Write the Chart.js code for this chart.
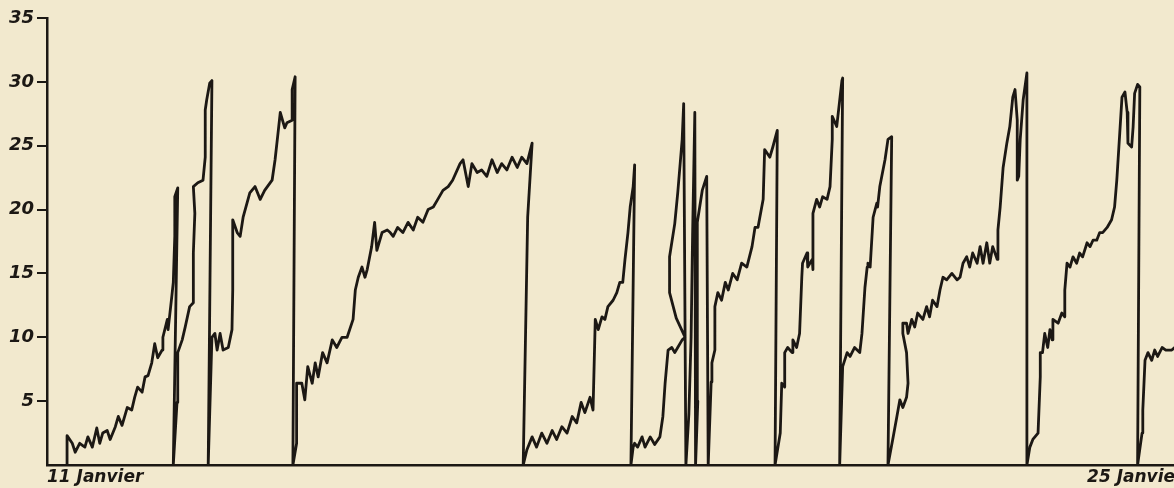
<!DOCTYPE html>
<html lang="fr">
<head>
<meta charset="utf-8">
<title>11 - 25 Janvier</title>
<script src="https://cdn.jsdelivr.net/npm/chart.js@4/dist/chart.umd.min.js"></script>
<style>
    html, body { margin: 0; padding: 0; background: #f2e9ce; }
    #cadre { width: 1174px; height: 488px; position: relative; }
</style>
</head>
<body>
<div id="cadre"><canvas id="courbe"></canvas></div>
<script>
/* Enregistrement du 11 au 25 janvier */

// temps en jours depuis le 11 janvier
const jours = [
    0.27, 0.27, 0.34, 0.38, 0.44, 0.51, 0.55, 0.61, 0.67, 0.71, 0.75, 0.81, 0.85, 0.92, 0.96, 1.01, 1.08, 1.14, 1.18, 1.22, 1.28, 1.32, 1.36, 1.41, 1.45, 1.49, 1.55, 1.56, 1.62, 1.63, 1.68, 1.70, 1.72, 1.72, 1.76, 1.70,
    1.75, 1.76, 1.82, 1.86, 1.92, 1.97, 1.97, 1.99, 1.97, 2.03, 2.10, 2.13, 2.13, 2.15, 2.19, 2.22, 2.17,
    2.22, 2.26, 2.29, 2.33, 2.37, 2.44, 2.49, 2.50, 2.50, 2.56, 2.60, 2.64, 2.73, 2.80, 2.87, 2.93, 3.03, 3.07, 3.11, 3.14, 3.20, 3.23, 3.30, 3.30, 3.34, 3.31,
    3.36, 3.36, 3.43, 3.47, 3.51, 3.57, 3.61, 3.65, 3.71, 3.77, 3.84, 3.90, 3.97, 4.04, 4.12, 4.15, 4.19, 4.24, 4.28, 4.31, 4.37, 4.41, 4.44, 4.51, 4.58, 4.62, 4.66, 4.72, 4.79, 4.86, 4.93, 4.99, 5.06, 5.13, 5.20, 5.26, 5.33, 5.40, 5.46, 5.56, 5.60, 5.67, 5.72, 5.79, 5.85, 5.92, 5.99, 6.06, 6.12, 6.19, 6.26, 6.33, 6.39, 6.46, 6.53, 6.47, 6.41,
    6.46, 6.53, 6.59, 6.66, 6.73, 6.80, 6.86, 6.93, 7.00, 7.07, 7.13, 7.19, 7.24, 7.31, 7.35, 7.38, 7.42, 7.47, 7.51, 7.55, 7.62, 7.67, 7.71, 7.75, 7.78, 7.82, 7.85, 7.89, 7.91, 7.86,
    7.89, 7.91, 7.95, 8.01, 8.05, 8.12, 8.18, 8.25, 8.29, 8.32, 8.36, 8.41, 8.45, 8.49, 8.55, 8.59, 8.47, 8.38, 8.38, 8.45, 8.49, 8.55, 8.57, 8.60, 8.64, 8.67, 8.69, 8.72, 8.73, 8.76, 8.75, 8.75, 8.76, 8.82, 8.88, 8.90,
    8.94, 8.95, 8.99, 8.99, 9.03, 9.08, 9.13, 9.17, 9.23, 9.29, 9.35, 9.42, 9.49, 9.53, 9.57, 9.64, 9.66, 9.73, 9.77, 9.83, 9.80,
    9.87, 9.89, 9.93, 9.93, 9.97, 10.03, 10.04, 10.09, 10.13, 10.16, 10.17, 10.23, 10.24, 10.30, 10.31, 10.31, 10.36, 10.40, 10.44, 10.50, 10.54, 10.57, 10.57, 10.63, 10.70, 10.71, 10.67,
    10.71, 10.77, 10.81, 10.87, 10.94, 10.97, 11.01, 11.04, 11.05, 11.08, 11.12, 11.17, 11.18, 11.21, 11.28, 11.32, 11.37, 11.32,
    11.39, 11.44, 11.48, 11.52, 11.57, 11.59, 11.57, 11.52, 11.52, 11.57, 11.59, 11.64, 11.68, 11.72, 11.79, 11.84, 11.88, 11.92, 11.98, 12.02, 12.06, 12.11, 12.18, 12.25, 12.29, 12.33, 12.38, 12.42, 12.46, 12.52, 12.56, 12.60, 12.65, 12.69, 12.73, 12.79, 12.80, 12.83, 12.87, 12.92, 12.96, 13.00, 13.03, 13.06, 13.06, 13.08, 13.10, 13.14, 13.19, 13.19,
    13.23, 13.27, 13.34, 13.37, 13.37, 13.40, 13.43, 13.47, 13.50, 13.53, 13.54, 13.61, 13.66, 13.70, 13.70, 13.73, 13.77, 13.81, 13.86, 13.90, 13.94, 14.00, 14.04, 14.08, 14.13, 14.17, 14.21, 14.27, 14.33, 14.37, 14.40, 14.44, 14.47, 14.51, 14.54, 14.55, 14.60, 14.62, 14.64, 14.68, 14.71, 14.68,
    14.74, 14.75, 14.78, 14.82, 14.87, 14.91, 14.95, 15.01, 15.06, 15.14, 15.20
];

const valeurs = [
    0, 2.3, 1.7, 1.0, 1.7, 1.4, 2.2, 1.4, 2.9, 1.7, 2.5, 2.7, 2.0, 3.0, 3.8, 3.1, 4.5, 4.3, 5.3, 6.1, 5.7, 6.9, 7.0, 8.0, 9.5, 8.4, 9.0, 10.0, 11.4, 10.6, 13.2, 14.3, 17.9, 21.0, 21.7, 0,
    4.9, 8.8, 9.8, 10.8, 12.4, 12.7, 16.6, 19.7, 21.8, 22.1, 22.3, 24.1, 27.8, 28.6, 29.9, 30.1, 0,
    10.0, 10.3, 9.0, 10.3, 9.0, 9.2, 10.6, 13.7, 19.2, 18.2, 17.9, 19.4, 21.3, 21.8, 20.8, 21.5, 22.3, 23.9, 26.0, 27.6, 26.4, 26.8, 27.0, 29.4, 30.4, 0,
    1.7, 6.4, 6.4, 5.1, 7.7, 6.4, 8.0, 6.9, 8.8, 8.0, 9.8, 9.2, 10.0, 10.0, 11.4, 13.7, 14.7, 15.5, 14.7, 15.3, 17.1, 19.0, 16.8, 18.2, 18.4, 18.2, 17.9, 18.6, 18.2, 19.0, 18.4, 19.4, 19.0, 20.0, 20.2, 20.8, 21.5, 21.8, 22.3, 23.6, 23.9, 21.8, 23.6, 22.9, 23.1, 22.6, 23.9, 22.9, 23.6, 23.1, 24.1, 23.3, 24.1, 23.6, 25.2, 19.4, 0,
    1.2, 2.2, 1.4, 2.5, 1.7, 2.7, 2.0, 3.0, 2.5, 3.8, 3.3, 4.9, 4.1, 5.3, 4.3, 11.4, 10.6, 11.6, 11.4, 12.4, 12.9, 13.5, 14.3, 14.3, 16.1, 18.2, 20.2, 21.8, 23.5, 0,
    1.4, 1.7, 1.4, 2.2, 1.4, 2.2, 1.6, 2.2, 3.8, 6.4, 9.0, 9.2, 8.8, 9.2, 9.8, 10.0, 11.5, 13.5, 16.3, 18.9, 21.3, 25.5, 28.3, 0, 4.0, 10.0, 18.0, 27.6, 0, 5.0, 12.0, 16.3, 19.0, 21.5, 22.6, 0,
    6.5, 8.0, 9.0, 12.4, 13.5, 12.9, 14.3, 13.7, 15.0, 14.5, 15.8, 15.5, 17.1, 18.6, 18.6, 20.8, 24.7, 24.1, 24.9, 26.2, 0,
    2.5, 6.4, 6.1, 8.8, 9.2, 8.8, 9.8, 9.2, 10.3, 14.7, 15.8, 16.6, 15.5, 16.1, 15.3, 19.7, 20.8, 20.2, 21.0, 20.8, 21.8, 25.5, 27.3, 26.5, 30.1, 30.3, 0,
    7.7, 8.8, 8.5, 9.2, 8.8, 10.3, 13.9, 15.5, 15.8, 15.5, 19.4, 20.5, 20.2, 21.8, 23.9, 25.5, 25.7, 0,
    2.2, 3.8, 5.1, 4.5, 5.3, 6.4, 8.8, 10.3, 11.1, 11.1, 10.3, 11.4, 10.8, 11.9, 11.4, 12.4, 11.6, 12.9, 12.4, 13.7, 14.7, 14.5, 15.0, 14.5, 14.7, 15.8, 16.3, 15.5, 16.6, 15.8, 17.1, 15.8, 17.4, 15.8, 17.1, 16.1, 18.4, 20.2, 23.3, 25.2, 26.5, 28.8, 29.4, 27.0, 22.3, 22.6, 25.5, 28.6, 30.7, 0,
    1.4, 2.0, 2.5, 6.9, 8.8, 8.8, 10.3, 9.2, 10.6, 9.8, 11.4, 11.1, 11.9, 11.6, 13.7, 15.8, 15.5, 16.3, 15.8, 16.6, 16.3, 17.4, 17.1, 17.6, 17.6, 18.2, 18.2, 18.6, 19.2, 20.2, 22.3, 26.0, 28.8, 29.2, 27.6, 25.2, 24.9, 26.5, 29.1, 29.8, 29.6, 0,
    2.5, 4.3, 8.2, 8.8, 8.2, 9.0, 8.5, 9.2, 9.0, 9.0, 9.3
];

// repères de l'axe du temps
const joursRepere = [0, 14];
const etiquettesJours = ['11 Janvier', '25 Janvier'];
const finAxe = 15.17;

// axe vertical
const valeurMax = 35;
const pasValeurs = 5;

document.addEventListener('DOMContentLoaded', () => {
    const encre = '#1c1814';
    const policeEtiquette = { family: '"DejaVu Sans", sans-serif', style: 'italic', weight: 'bold' };

    const points = jours.map((j, i) => ({ x: j, y: valeurs[i] }));

    const ctx = document.getElementById('courbe').getContext('2d');
    new Chart(ctx, {
        type: 'line',
        data: {
            datasets: [{
                data: points,
                borderColor: encre,
                borderWidth: 2.8,
                borderJoinStyle: 'round',
                borderCapStyle: 'round',
                pointRadius: 0,
                tension: 0,
                fill: false
            }]
        },
        options: {
            responsive: true,
            maintainAspectRatio: false,
            animation: false,
            layout: { padding: { top: 18, right: 0, bottom: 0, left: 0 } },
            plugins: {
                legend: { display: false },
                tooltip: { enabled: false }
            },
            scales: {
                x: {
                    type: 'linear',
                    min: 0,
                    max: finAxe,
                    afterBuildTicks: (scale) => {
                        scale.ticks = joursRepere.map(v => ({ value: v }));
                    },
                    afterFit: (scale) => {
                        scale.height = 23;
                        scale.paddingLeft = 0;
                        scale.paddingRight = 0;
                    },
                    grid: { display: false, drawTicks: false },
                    border: { display: true, color: encre, width: 2.5 },
                    ticks: {
                        autoSkip: false,
                        maxRotation: 0,
                        align: 'start',
                        padding: 2,
                        color: encre,
                        font: { ...policeEtiquette, size: 17 },
                        callback: (value, index) => etiquettesJours[index]
                    }
                },
                y: {
                    min: 0,
                    max: valeurMax,
                    afterFit: (scale) => {
                        scale.width = 47;
                        scale.paddingTop = 0;
                        scale.paddingBottom = 0;
                    },
                    grid: {
                        drawOnChartArea: false,
                        drawTicks: true,
                        tickLength: 10,
                        lineWidth: 2,
                        color: (c) => (c.tick && c.tick.value === 0) ? 'rgba(0,0,0,0)' : encre
                    },
                    border: { display: true, color: encre, width: 2.5 },
                    ticks: {
                        stepSize: pasValeurs,
                        padding: 3,
                        color: encre,
                        font: { ...policeEtiquette, size: 18 },
                        callback: (value) => value === 0 ? '' : value
                    }
                }
            }
        }
    });
});
</script>
</body>
</html>
